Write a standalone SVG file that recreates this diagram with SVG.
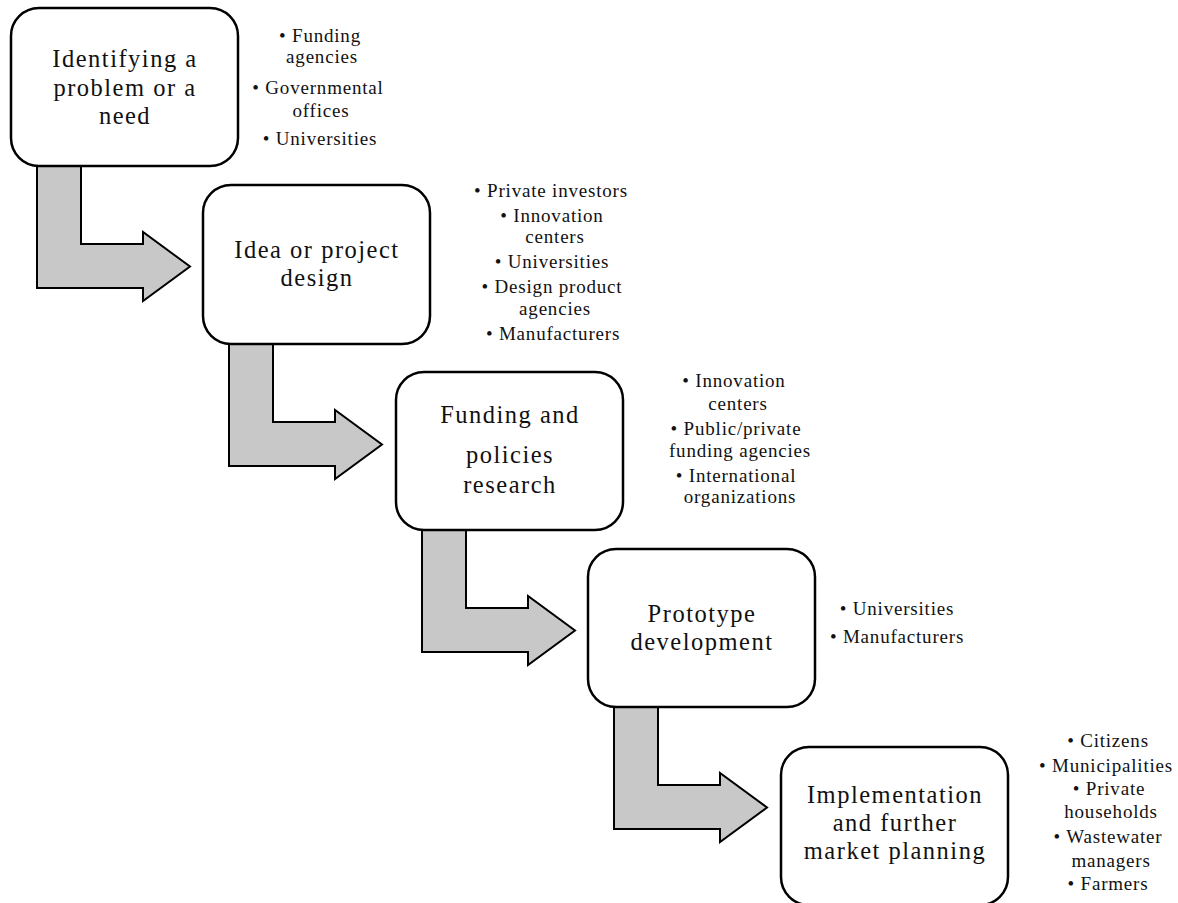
<svg xmlns="http://www.w3.org/2000/svg" width="1178" height="903" viewBox="0 0 1178 903">
<style>
.box{fill:#fff;stroke:#000;stroke-width:2.5}
.arr{fill:#c8c8c8;stroke:#000;stroke-width:2;stroke-linejoin:miter}
.bt{font-family:"Liberation Serif",serif;font-size:24.5px;letter-spacing:1.5px;fill:#111;text-anchor:middle}
.st{font-family:"Liberation Serif",serif;font-size:19px;letter-spacing:0.8px;fill:#111;text-anchor:middle}
</style>
<rect width="1178" height="903" fill="#fff"/>
<g id="connectors">
<path class="arr" d="M37,166 L81,166 L81,244 L143,244 L143,232 L190,266.5 L143,301 L143,288 L37,288 Z"/>
<path class="arr" d="M229,344 L273,344 L273,422 L335,422 L335,410 L382,444.5 L335,479 L335,466 L229,466 Z"/>
<path class="arr" d="M422,530 L466,530 L466,608 L528,608 L528,596 L575,630.5 L528,665 L528,652 L422,652 Z"/>
<path class="arr" d="M614,707 L658,707 L658,785 L720,785 L720,773 L767,807.5 L720,842 L720,829 L614,829 Z"/>
</g>
<g id="node1">
<rect class="box" x="11" y="8" width="227" height="158" rx="28"/>
<text class="bt" x="125" y="67">Identifying a</text>
<text class="bt" x="125" y="96">problem or a</text>
<text class="bt" x="125" y="124">need</text>
</g>
<g id="actors1">
<text class="st" x="320" y="42">• Funding</text>
<text class="st" x="322" y="63">agencies</text>
<text class="st" x="318" y="94">• Governmental</text>
<text class="st" x="321" y="117">offices</text>
<text class="st" x="320" y="145">• Universities</text>
</g>
<g id="node2">
<rect class="box" x="203" y="185" width="227" height="159" rx="28"/>
<text class="bt" x="317" y="258">Idea or project</text>
<text class="bt" x="317" y="286">design</text>
</g>
<g id="actors2">
<text class="st" x="551" y="197">• Private investors</text>
<text class="st" x="552" y="222">• Innovation</text>
<text class="st" x="555" y="243">centers</text>
<text class="st" x="552" y="268">• Universities</text>
<text class="st" x="552" y="293">• Design product</text>
<text class="st" x="555" y="315">agencies</text>
<text class="st" x="553" y="340">• Manufacturers</text>
</g>
<g id="node3">
<rect class="box" x="396" y="372" width="227" height="158" rx="28"/>
<text class="bt" x="510" y="423">Funding and</text>
<text class="bt" x="510" y="463">policies</text>
<text class="bt" x="510" y="493">research</text>
</g>
<g id="actors3">
<text class="st" x="734" y="387">• Innovation</text>
<text class="st" x="738" y="410">centers</text>
<text class="st" x="736" y="435">• Public/private</text>
<text class="st" x="740" y="457">funding agencies</text>
<text class="st" x="736" y="482">• International</text>
<text class="st" x="740" y="503">organizations</text>
</g>
<g id="node4">
<rect class="box" x="588" y="549" width="227" height="158" rx="28"/>
<text class="bt" x="702" y="622">Prototype</text>
<text class="bt" x="702" y="650">development</text>
</g>
<g id="actors4">
<text class="st" x="897" y="615">• Universities</text>
<text class="st" x="897" y="643">• Manufacturers</text>
</g>
<g id="node5">
<rect class="box" x="781" y="747" width="227" height="158" rx="28"/>
<text class="bt" x="895" y="803">Implementation</text>
<text class="bt" x="895" y="831">and further</text>
<text class="bt" x="895" y="859">market planning</text>
</g>
<g id="actors5">
<text class="st" x="1108" y="747">• Citizens</text>
<text class="st" x="1106" y="772">• Municipalities</text>
<text class="st" x="1109" y="795">• Private</text>
<text class="st" x="1111" y="818">households</text>
<text class="st" x="1108" y="843">• Wastewater</text>
<text class="st" x="1111" y="867">managers</text>
<text class="st" x="1108" y="890">• Farmers</text>
</g>
</svg>
